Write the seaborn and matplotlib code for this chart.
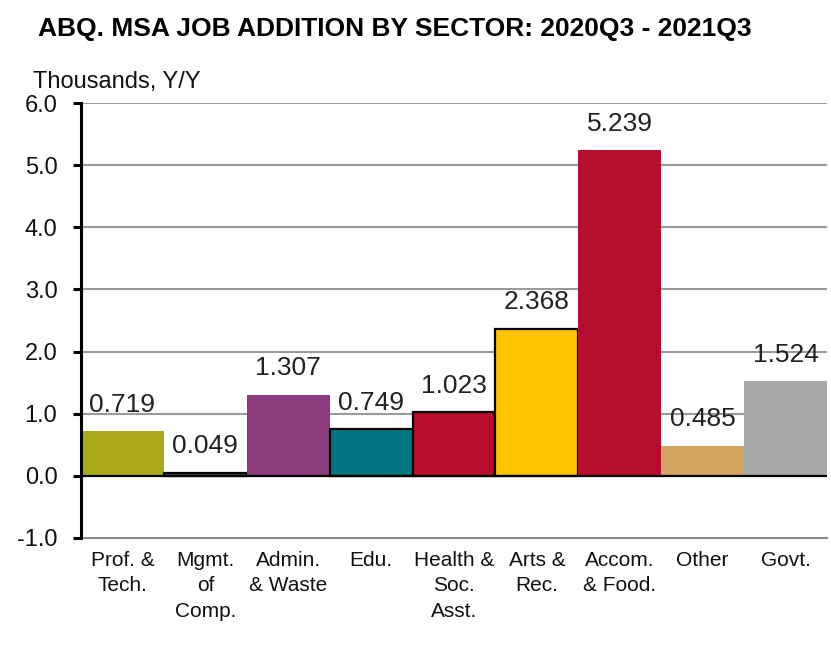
import matplotlib
matplotlib.use("Agg")
import matplotlib.pyplot as plt
import seaborn as sns
import pandas as pd

# Sector data (thousands of jobs, year over year)
sectors = ["Prof. &\nTech.", "Mgmt.\nof\nComp.", "Admin.\n& Waste", "Edu.",
           "Health &\nSoc.\nAsst.", "Arts &\nRec.", "Accom.\n& Food.", "Other", "Govt."]
values = [0.719, 0.049, 1.307, 0.749, 1.023, 2.368, 5.239, 0.485, 1.524]
colors = ["#A9A91A", "#595959", "#8B3A7B", "#007780", "#B80D2C",
          "#FFC400", "#B70D2E", "#D4A463", "#A7A8AA"]
outlined = [False, True, False, True, True, True, False, False, False]
yticks = [-1.0, 0.0, 1.0, 2.0, 3.0, 4.0, 5.0, 6.0]

sns.set_theme(style="white")
plt.rcParams["font.family"] = ["Liberation Sans", "DejaVu Sans"]

df = pd.DataFrame({"sector": sectors, "value": values})

W, H = 831, 660
fig = plt.figure(figsize=(W / 100, H / 100), dpi=100)
ax = fig.add_axes([81 / W, 1 - 538 / H, (827 - 81) / W, (538 - 103) / H])

sns.barplot(data=df, x="sector", y="value", hue="sector", palette=colors,
            width=1.0, legend=False, saturation=1.0, ax=ax, zorder=3)

for patch, edge in zip(ax.patches, outlined):
    if edge:
        patch.set_edgecolor("black")
        patch.set_linewidth(1.6)
    else:
        patch.set_linewidth(0)

ax.set_xlim(-0.5, len(sectors) - 0.5)
ax.set_ylim(-1.0, 6.0)
ax.set_yticks(yticks)
ax.set_yticklabels([f"{t:.1f}" for t in yticks], fontsize=17, color="#111111")
ax.set_xlabel("")
ax.set_ylabel("")

# horizontal gridlines
for t in yticks[2:]:
    ax.axhline(t, color="#9a9a9a", lw=1.5, zorder=1)
ax.axhline(0, color="black", lw=1.6, zorder=4)

for s in ["top", "right"]:
    ax.spines[s].set_visible(False)
ax.spines["left"].set_color("black")
ax.spines["left"].set_linewidth(2.2)
ax.spines["left"].set_zorder(5)
ax.spines["bottom"].set_color("#8a8a8a")
ax.spines["bottom"].set_linewidth(1.5)

ax.tick_params(axis="y", which="major", direction="out", length=6, width=2.2,
               color="black", left=True, pad=11)
ax.tick_params(axis="x", length=0, pad=9)
for lbl in ax.get_xticklabels():
    lbl.set_fontsize(15)
    lbl.set_color("#111111")
    lbl.set_multialignment("center")
    lbl.set_linespacing(1.45)

# value labels above each bar
for i, v in enumerate(values):
    ax.annotate(f"{v:.3f}", xy=(i, v), xytext=(0, 14), textcoords="offset points",
                ha="center", va="baseline", fontsize=19, color="#222222", zorder=2)

fig.text(38 / W, 1 - 29 / H, "ABQ. MSA JOB ADDITION BY SECTOR: 2020Q3 - 2021Q3",
         fontsize=19, fontweight="bold", ha="left", va="center", color="black")
fig.text(33 / W, 1 - 82 / H, "Thousands, Y/Y", fontsize=17,
         ha="left", va="center", color="#111111")

fig.savefig("out.png", dpi=100)
